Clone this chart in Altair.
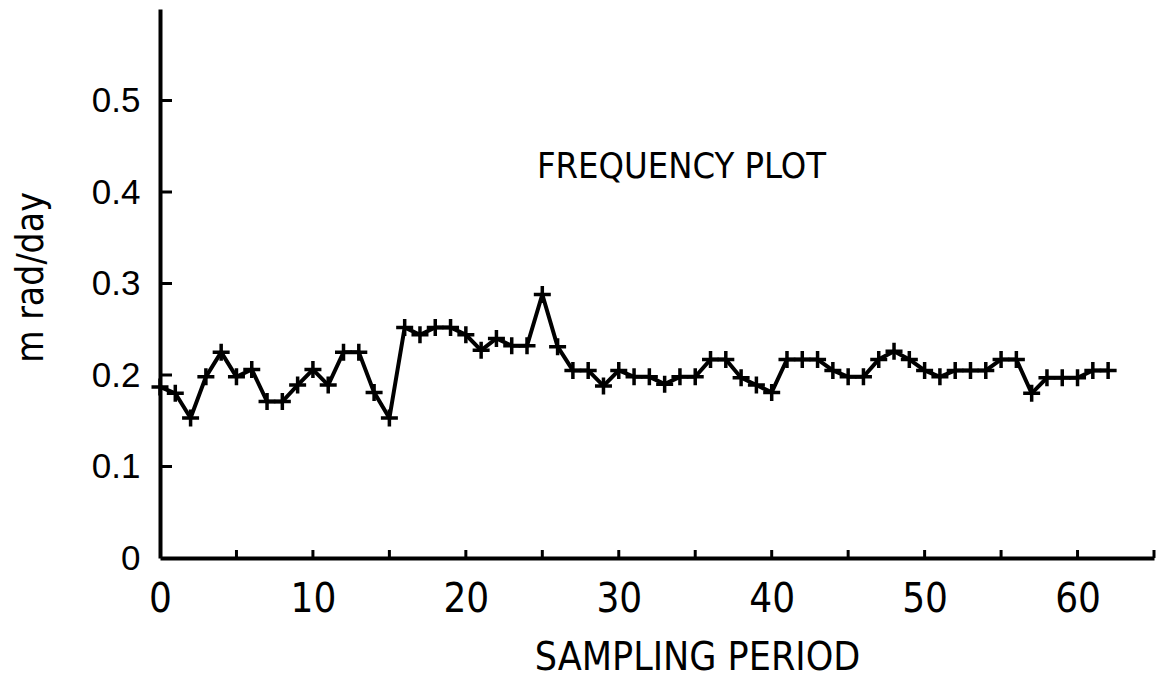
import altair as alt
import pandas as pd

# Frequency per sampling period (mrad/day)
periods = list(range(63))
freq = [
    0.187, 0.180, 0.153, 0.198, 0.225, 0.198, 0.206, 0.171, 0.171, 0.189,
    0.206, 0.189, 0.225, 0.225, 0.181, 0.153, 0.252, 0.244, 0.252, 0.252,
    0.244, 0.227, 0.240, 0.232, 0.232, 0.288, 0.231, 0.205, 0.205, 0.188,
    0.205, 0.198, 0.198, 0.190, 0.198, 0.198, 0.217, 0.217, 0.197, 0.189,
    0.181, 0.217, 0.217, 0.217, 0.205, 0.198, 0.198, 0.217, 0.226, 0.217,
    0.205, 0.198, 0.205, 0.205, 0.205, 0.217, 0.217, 0.180, 0.197, 0.197,
    0.197, 0.205, 0.205,
]

x_label_values = [0, 10, 20, 30, 40, 50, 60]
x_tick_values = [5, 10, 15, 20, 25, 30, 35, 40, 45, 50, 55, 60, 65]
y_label_values = [0, 0.1, 0.2, 0.3, 0.4, 0.5]
y_tick_values = [0.1, 0.2, 0.3, 0.4, 0.5]

plot_title = ["FREQUENCY PLOT"]
title_x = [34.1]
title_y = [0.415]

W, H = 994, 549
NARROW = "DejaVu Sans Condensed"

df = pd.DataFrame({"period": periods, "freq": freq})
xt = pd.DataFrame({"t": x_tick_values})
yt = pd.DataFrame({"t": y_tick_values})
ann = pd.DataFrame({"label": plot_title, "x": title_x, "y": title_y})

x_scale = alt.Scale(domain=[0, 65], nice=False)
y_scale = alt.Scale(domain=[0, 0.6], nice=False)

x_axis = alt.Axis(
    values=x_label_values, ticks=False, grid=False, labelFlush=False,
    domainColor="black", domainWidth=4,
    labelFont=NARROW, labelFontSize=40, labelColor="black", labelPadding=21,
    title="SAMPLING PERIOD", titleFont=NARROW, titleFontSize=39,
    titleFontWeight="normal", titleColor="black",
    titleX=537, titleY=111, titleBaseline="alphabetic",
)
y_axis = alt.Axis(
    values=y_label_values, format=".1~f", ticks=False, grid=False,
    labelFlush=False,
    domainColor="black", domainWidth=4,
    labelFont="Liberation Sans", labelFontSize=35, labelColor="black",
    labelPadding=20,
    title="m rad/day", titleFont=NARROW, titleFontSize=37,
    titleFontWeight="normal", titleColor="black",
    titleAngle=270, titleX=-118, titleY=268,
    titleBaseline="alphabetic", titleAlign="center",
)

base = alt.Chart(df)

line = base.mark_line(color="black", strokeWidth=4).encode(
    x=alt.X("period:Q", scale=x_scale, axis=x_axis),
    y=alt.Y("freq:Q", scale=y_scale, axis=y_axis),
)

plus = "M-1,0L1,0M0,-1L0,1"
points = base.mark_point(
    shape=plus, size=289, filled=False, color="black",
    strokeWidth=3.5, opacity=1,
).encode(
    x=alt.X("period:Q", scale=x_scale),
    y=alt.Y("freq:Q", scale=y_scale),
)

# inward tick marks on both axes
x_ticks = alt.Chart(xt).mark_rule(color="black", strokeWidth=3).encode(
    x=alt.X("t:Q", scale=x_scale),
    y=alt.value(H), y2=alt.value(H - 8),
)
y_ticks = alt.Chart(yt).mark_rule(color="black", strokeWidth=3).encode(
    y=alt.Y("t:Q", scale=y_scale),
    x=alt.value(0), x2=alt.value(12),
)

label = alt.Chart(ann).mark_text(
    font=NARROW, fontSize=36, color="black", align="center",
    baseline="alphabetic",
).encode(
    x=alt.X("x:Q", scale=x_scale),
    y=alt.Y("y:Q", scale=y_scale),
    text="label:N",
)

chart = alt.layer(line, points, x_ticks, y_ticks, label).properties(
    width=W, height=H,
    autosize=alt.AutoSizeParams(type="none"),
    padding={"left": 160, "top": 9, "right": 3, "bottom": 122},
    background="white",
).configure_view(stroke=None)

chart.save("out.html", embed_options={"renderer": "svg", "actions": False})
